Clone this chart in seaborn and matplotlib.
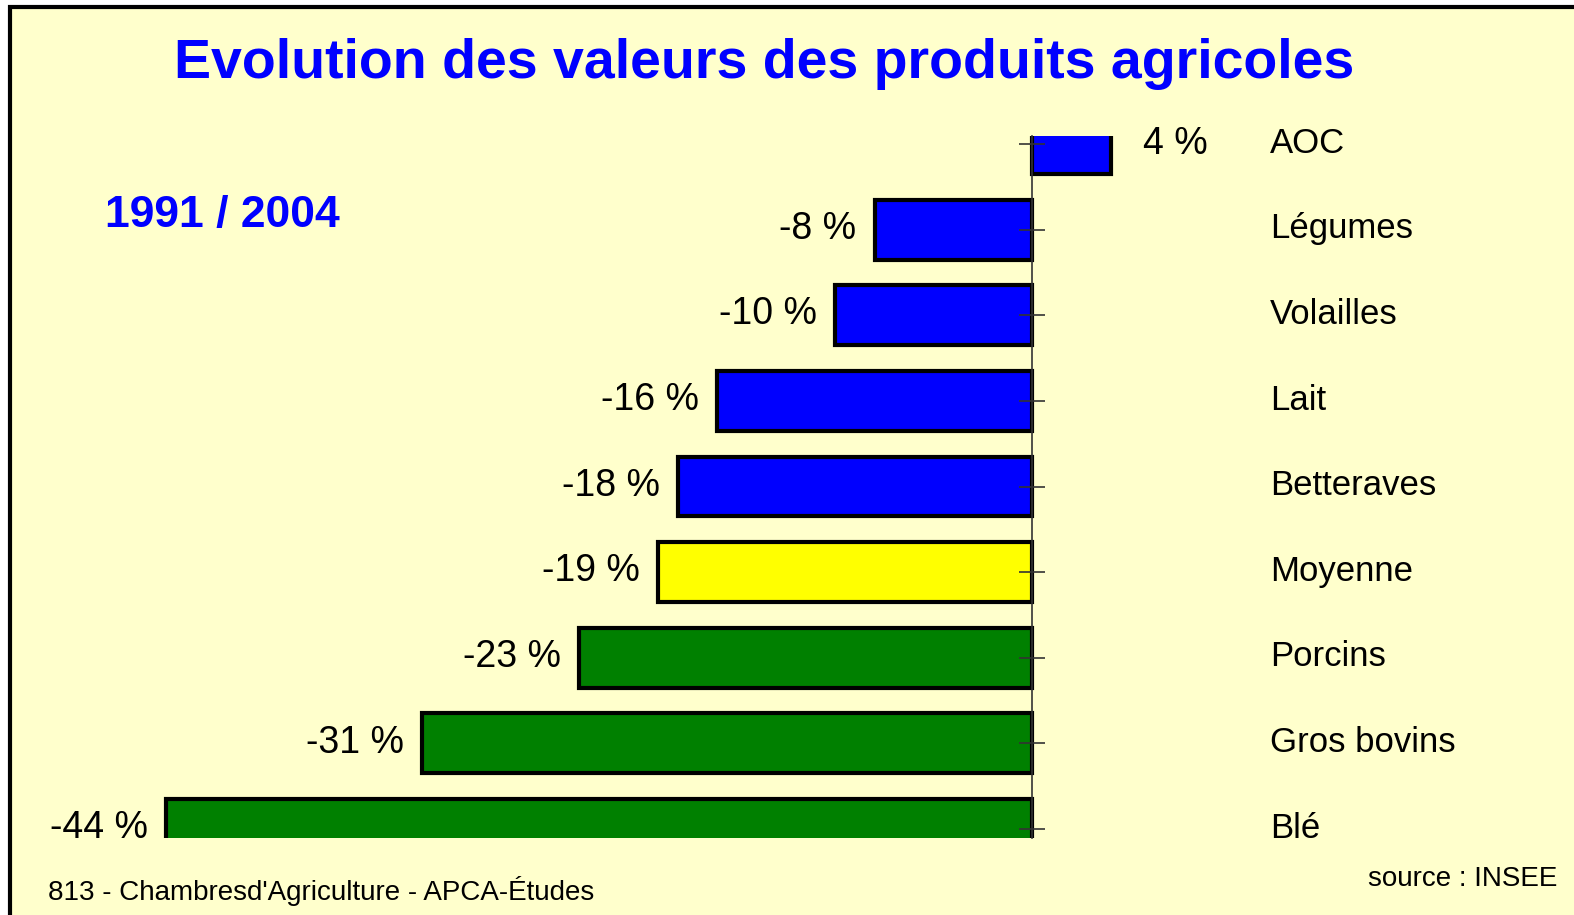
import matplotlib
matplotlib.use("Agg")
import matplotlib.pyplot as plt
import matplotlib.patches as mpatches
import seaborn as sns
import pandas as pd

# ---- data ----
categories = ["AOC", "Légumes", "Volailles", "Lait", "Betteraves",
              "Moyenne", "Porcins", "Gros bovins", "Blé"]
values = [4, -8, -10, -16, -18, -19, -23, -31, -44]
bar_colors = ["#0000FF", "#0000FF", "#0000FF", "#0000FF", "#0000FF",
              "#FFFF00", "#008000", "#008000", "#008000"]
value_labels = ["4 %", "-8 %", "-10 %", "-16 %", "-18 %",
                "-19 %", "-23 %", "-31 %", "-44 %"]
title = "Evolution des valeurs des produits agricoles"
period = "1991 / 2004"
footer_left = "813 - Chambresd'Agriculture - APCA-Études"
footer_right = "source : INSEE"

BG = "#FFFFCC"
W, H = 1574, 915
DPI = 100

sns.set_theme(style="white")
plt.rcParams["font.family"] = ["Liberation Sans", "DejaVu Sans"]

fig = plt.figure(figsize=(W / DPI, H / DPI), dpi=DPI, facecolor="white")

px = lambda x: x / W
py = lambda y: 1 - y / H

# background panel with border on left / top
bg = mpatches.Rectangle((px(10), py(H + 30)), px(W + 40), (H + 30 - 6.5) / H,
                        transform=fig.transFigure, facecolor=BG,
                        edgecolor="black", linewidth=3.0, zorder=-10)
fig.patches.append(bg)

# axes placement (pixel based)
ax_left, ax_right, ax_top, ax_bottom = 100, 1250, 136, 838
ax = fig.add_axes([px(ax_left), py(ax_bottom),
                   (ax_right - ax_left) / W, (ax_bottom - ax_top) / H])
ax.set_facecolor("none")
ax.set_zorder(5)

zero_px = 1032
scale = (1032 - 166) / 44.0  # px per unit
xmin = -(zero_px - ax_left) / scale
xmax = (ax_right - zero_px) / scale

df = pd.DataFrame({"cat": categories, "val": values})
sns.barplot(data=df, x="val", y="cat", hue="cat", palette=bar_colors,
            legend=False, orient="h", width=0.7, edgecolor="black",
            linewidth=3.0, ax=ax, saturation=1)

spacing = (829 - 144) / 8.0
ax.set_xlim(xmin, xmax)
ax.set_ylim(8 + (ax_bottom - 829) / spacing, -(144 - ax_top) / spacing)

for s in ["top", "right", "bottom"]:
    ax.spines[s].set_visible(False)
ax.spines["left"].set_position(("data", 0))
ax.spines["left"].set_color("#333333")
ax.spines["left"].set_linewidth(1.2)
ax.tick_params(axis="y", direction="inout", length=19, width=1.2,
               color="#333333", left=True, labelleft=False)
ax.tick_params(axis="x", bottom=False, labelbottom=False)
ax.set_axisbelow(False)
ax.set_xlabel("")
ax.set_ylabel("")

gap = 18 / scale
for i, (v, lab) in enumerate(zip(values, value_labels)):
    if v >= 0:
        ax.text(v + 32 / scale, i + 0.0, lab, ha="left", va="center",
                fontsize=27, color="black", clip_on=False)
    else:
        ax.text(v - gap, i - 0.01, lab, ha="right", va="center",
                fontsize=27, color="black", clip_on=False)
    ax.text((1270 - zero_px) / scale, i - 0.01, categories[i], ha="left",
            va="center", fontsize=25, color="black", clip_on=False)

fig.text(px(764), py(64), title, ha="center", va="center", color="#0000FF",
         fontsize=40, fontweight="bold")
fig.text(px(105), py(215), period, ha="left", va="center", color="#0000FF",
         fontsize=32, fontweight="bold")
fig.text(px(48), py(891), footer_left, ha="left", va="center", color="black",
         fontsize=20)
fig.text(px(1557), py(879), footer_right, ha="right", va="center",
         color="black", fontsize=20)

fig.savefig("out.png", dpi=DPI, facecolor="white")
